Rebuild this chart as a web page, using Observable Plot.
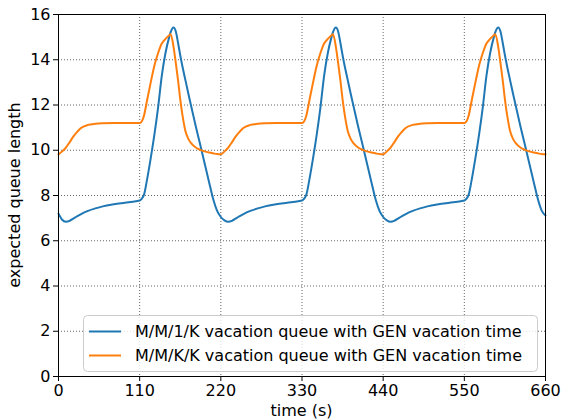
<!DOCTYPE html>
<html>
<head>
<meta charset="utf-8">
<script src="https://cdn.jsdelivr.net/npm/d3@7"></script>
<script src="https://cdn.jsdelivr.net/npm/@observablehq/plot@0.6"></script>
<style>
  html, body { margin: 0; padding: 0; background: white; }
  #chart { width: 561px; height: 419px; overflow: hidden; }
</style>
</head>
<body>
<div id="chart"></div>
<script>
const seriesNames = [
  "M/M/1/K vacation queue with GEN vacation time",
  "M/M/K/K vacation queue with GEN vacation time"
];
const seriesColors = ["#1f77b4", "#ff7f0e"];
const xTicks = [0, 110, 220, 330, 440, 550, 660];
const yTicks = [0, 2, 4, 6, 8, 10, 12, 14, 16];
const xLabel = "time (s)";
const yLabel = "expected queue length";

const time = [
  0,5,10,15,20,25,30,40,50,60,75,90,105,110,113,116,120,125,130,135,140,145,150,152,156,159,162,165,168,172,176,180,186,192,198,204,210,215,
  220,225,230,235,240,245,250,260,270,280,295,310,325,330,333,336,340,345,350,355,360,365,370,372,376,379,382,385,388,392,396,400,406,412,418,424,430,435,
  440,445,450,455,460,465,470,480,490,500,515,530,545,550,553,556,560,565,570,575,580,585,590,592,596,599,602,605,608,612,616,620,626,632,638,644,650,655,
  660
];
const mm1kValues = [
  7.2,6.93,6.84,6.88,6.98,7.08,7.17,7.32,7.43,7.52,7.61,7.68,7.75,7.78,7.86,8.05,8.7,9.65,10.7,11.9,13.3,14.3,15.0,15.22,15.43,15.25,14.75,14.2,13.7,13.1,12.5,11.92,11.06,10.25,9.43,8.6,7.8,7.32,
  7.05,6.9,6.84,6.88,6.98,7.08,7.17,7.32,7.43,7.52,7.61,7.68,7.75,7.78,7.86,8.05,8.7,9.65,10.7,11.9,13.3,14.3,15.0,15.22,15.43,15.25,14.75,14.2,13.7,13.1,12.5,11.92,11.06,10.25,9.43,8.6,7.8,7.32,
  7.05,6.9,6.84,6.88,6.98,7.08,7.17,7.32,7.43,7.52,7.61,7.68,7.75,7.78,7.86,8.05,8.7,9.65,10.7,11.9,13.3,14.3,15.0,15.22,15.43,15.25,14.75,14.2,13.7,13.1,12.5,11.92,11.06,10.25,9.43,8.6,7.8,7.32,
  7.12
];
const mmkkValues = [
  9.82,9.95,10.12,10.35,10.6,10.8,10.97,11.12,11.17,11.19,11.2,11.2,11.2,11.2,11.28,11.55,12.2,13.0,13.75,14.3,14.72,14.92,15.08,15.13,14.55,13.85,13.1,12.25,11.55,10.85,10.5,10.3,10.12,10.02,9.95,9.9,9.86,9.83,
  9.82,9.95,10.12,10.35,10.6,10.8,10.97,11.12,11.17,11.19,11.2,11.2,11.2,11.2,11.28,11.55,12.2,13.0,13.75,14.3,14.72,14.92,15.08,15.13,14.55,13.85,13.1,12.25,11.55,10.85,10.5,10.3,10.12,10.02,9.95,9.9,9.86,9.83,
  9.82,9.95,10.12,10.35,10.6,10.8,10.97,11.12,11.17,11.19,11.2,11.2,11.2,11.2,11.28,11.55,12.2,13.0,13.75,14.3,14.72,14.92,15.08,15.13,14.55,13.85,13.1,12.25,11.55,10.85,10.5,10.3,10.12,10.02,9.95,9.9,9.86,9.83,
  9.82
];

const rows = [];
time.forEach((t, i) => {
  rows.push({t, v: mm1kValues[i], s: seriesNames[0]});
  rows.push({t, v: mmkkValues[i], s: seriesNames[1]});
});

const W = 561, H = 419;
const mL = 58, mR = 16, mT = 14, mB = 43;
const font = "DejaVu Sans, sans-serif";
const fs = "16px";

const chart = Plot.plot({
  width: W, height: H,
  marginLeft: mL, marginRight: mR, marginTop: mT, marginBottom: mB,
  style: {fontFamily: font, fontSize: fs, color: "#000", background: "white", overflow: "visible"},
  x: {domain: [0, 660]},
  y: {domain: [0, 16]},
  color: {domain: seriesNames, range: seriesColors},
  marks: [
    Plot.gridX(xTicks, {stroke: "#555", strokeOpacity: 0.9, strokeWidth: 1, strokeDasharray: "1,2"}),
    Plot.gridY(yTicks, {stroke: "#555", strokeOpacity: 0.9, strokeWidth: 1, strokeDasharray: "1,2"}),
    Plot.line(rows, {x: "t", y: "v", z: "s", stroke: "s", strokeWidth: 2, curve: "monotone-x"}),
    Plot.frame({stroke: "#000", strokeWidth: 1}),
    Plot.axisX(xTicks, {tickSize: 5, tickPadding: 3, label: null, stroke: "#000"}),
    Plot.axisY(yTicks, {tickSize: 5, tickPadding: 3, label: null, stroke: "#000"})
  ]
});
document.getElementById("chart").appendChild(chart);

const svg = d3.select(chart);
const addText = (sel) => sel.attr("font-family", font).attr("font-size", fs).attr("fill", "#000");
addText(svg.append("text")
  .attr("x", mL + (W - mL - mR) / 2).attr("y", 416)
  .attr("text-anchor", "middle"))
  .text(xLabel);
addText(svg.append("text")
  .attr("transform", `translate(20,${mT + (H - mT - mB) / 2}) rotate(-90)`)
  .attr("text-anchor", "middle"))
  .text(yLabel);

// legend
const lg = svg.append("g").attr("text-anchor", "start");
lg.append("rect").attr("x", 83.5).attr("y", 315.5).attr("width", 454).attr("height", 56)
  .attr("rx", 4).attr("fill", "white").attr("fill-opacity", 0.8).attr("stroke", "#cccccc").attr("stroke-width", 1);
seriesNames.forEach((name, i) => {
  const y = 331.5 + i * 24;
  lg.append("line").attr("x1", 89).attr("x2", 121).attr("y1", y).attr("y2", y)
    .attr("stroke", seriesColors[i]).attr("stroke-width", 2);
  addText(lg.append("text").attr("x", 135).attr("y", y + 5.5).attr("text-anchor", "start")).text(name);
});
</script>
</body>
</html>
